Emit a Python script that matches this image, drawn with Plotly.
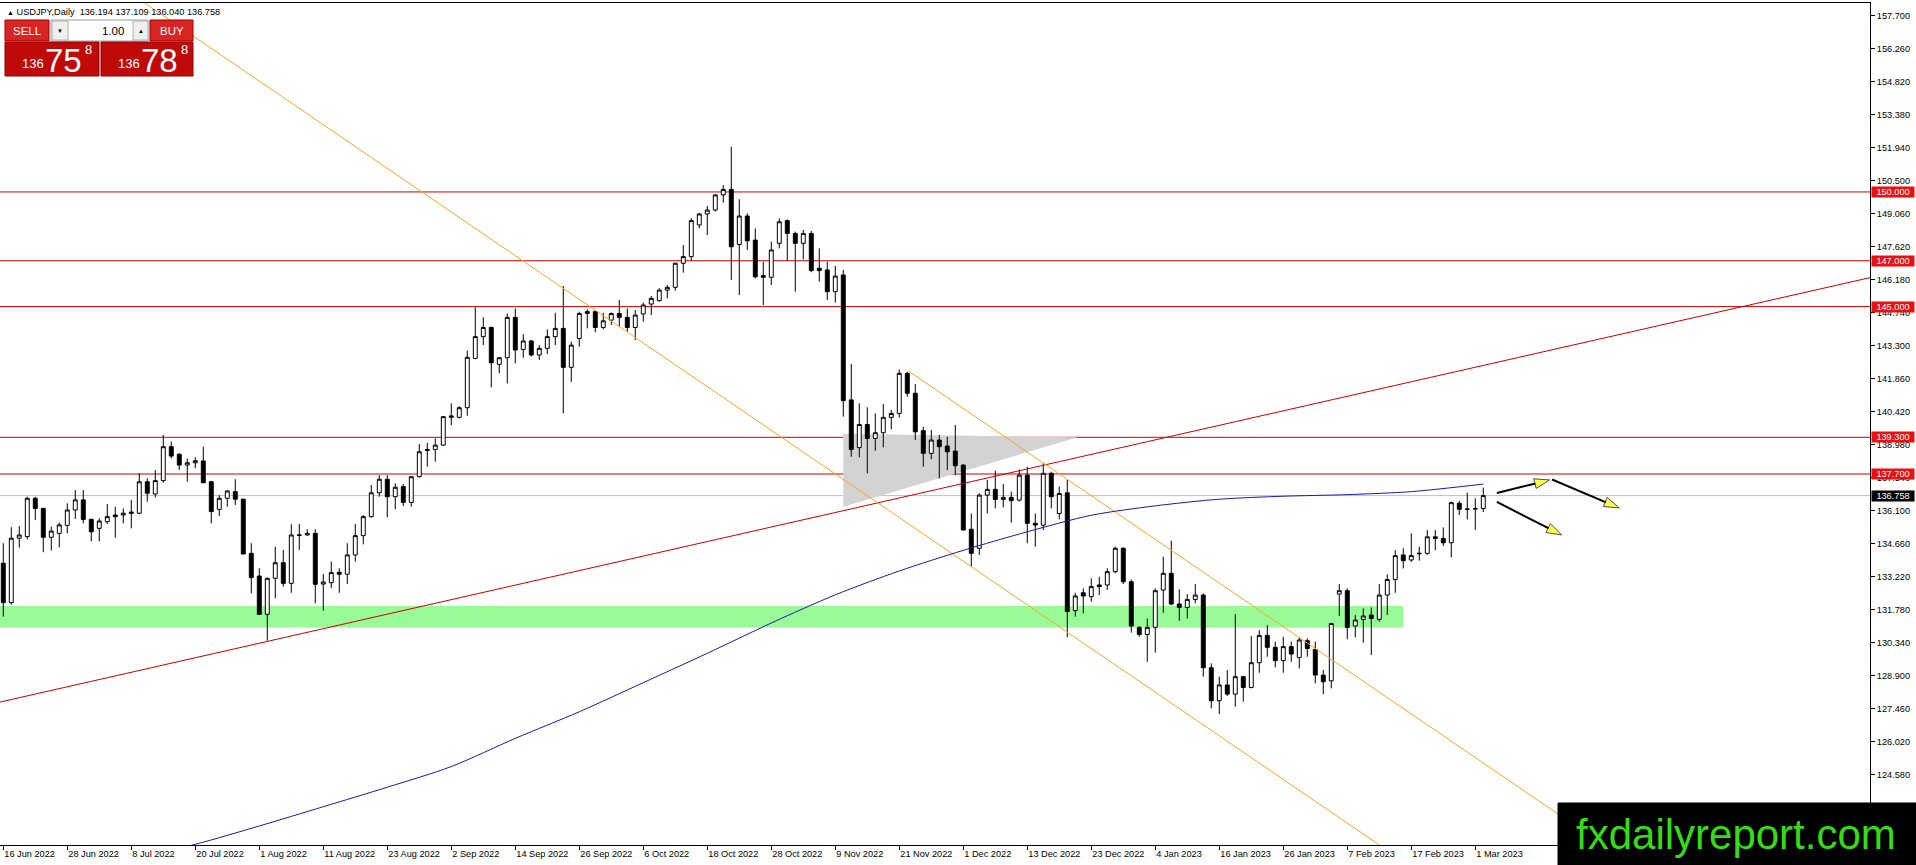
import plotly.graph_objects as go


##########
# Inputs #
##########

HEADER_TEXT = "USDJPY,Daily  136.194 137.109 136.040 136.758"
LOGO_TEXT = "fxdailyreport.com"

# x position of each date label (bar number, 16 Jun 2022 = bar 0)
DATE_TICK_BARS = [0, 8, 16, 24, 32, 40, 48, 56, 64, 72, 80, 88,
                  96, 104, 112, 120, 128, 136, 144, 152, 160, 168, 176, 184]
DATE_LABELS = [
    "16 Jun 2022", "28 Jun 2022", "8 Jul 2022", "20 Jul 2022", "1 Aug 2022",
    "11 Aug 2022", "23 Aug 2022", "2 Sep 2022", "14 Sep 2022", "26 Sep 2022",
    "6 Oct 2022", "18 Oct 2022", "28 Oct 2022", "9 Nov 2022", "21 Nov 2022",
    "1 Dec 2022", "13 Dec 2022", "23 Dec 2022", "4 Jan 2023", "16 Jan 2023",
    "26 Jan 2023", "7 Feb 2023", "17 Feb 2023", "1 Mar 2023",
]

PRICE_TICKS = [124.58, 126.02, 127.46, 128.90, 130.34, 131.78, 133.22, 134.66,
               136.10, 137.54, 138.98, 140.42, 141.86, 143.30, 144.74, 146.18,
               147.62, 149.06, 150.50, 151.94, 153.38, 154.82, 156.26, 157.70]

# Daily candles
OPEN = [
    133.81, 132.09, 134.90, 134.97, 136.64, 136.20, 134.94, 135.11, 135.46, 136.13,
    136.57, 135.72, 135.33, 135.62, 135.91, 135.91, 136.04, 135.99, 137.36, 136.83,
    137.41, 138.89, 138.56, 138.09, 138.19, 138.27, 137.36, 136.16, 136.64, 136.93,
    136.60, 134.24, 133.25, 131.58, 133.15, 133.83, 132.93, 135.02, 135.04, 135.11,
    132.90, 132.96, 133.41, 133.33, 134.17, 135.01, 135.84, 136.88, 137.47, 136.71,
    137.15, 136.46, 137.58, 138.72, 138.77, 138.96, 140.17, 140.17, 140.59, 142.74,
    143.69, 144.09, 142.48, 142.77, 144.53, 143.13, 143.50, 142.89, 143.18, 143.69,
    144.05, 142.35, 143.61, 144.70, 144.78, 144.09, 144.41, 144.70, 144.53, 144.09,
    144.68, 145.11, 145.26, 145.72, 145.84, 146.89, 147.18, 148.56, 149.04, 149.21,
    149.87, 150.11, 147.71, 148.95, 147.90, 146.35, 146.28, 147.76, 148.75, 148.19,
    147.76, 148.19, 146.67, 146.60, 145.65, 146.38, 140.93, 138.85, 139.86, 139.25,
    139.50, 140.17, 140.34, 142.09, 141.22, 139.59, 138.60, 139.18, 138.92, 138.70,
    138.09, 135.29, 134.46, 136.78, 137.03, 136.59, 136.68, 136.56, 137.65, 135.55,
    135.47, 137.73, 135.98, 136.88, 131.74, 132.52, 132.35, 132.86, 132.86, 133.44,
    134.46, 133.00, 131.01, 130.70, 131.01, 132.64, 133.37, 132.03, 131.88, 132.23,
    132.42, 129.25, 127.81, 128.50, 128.10, 128.86, 128.39, 129.47, 130.66, 130.14,
    129.56, 130.17, 129.70, 130.43, 130.05, 128.93, 128.68, 132.46, 132.61, 131.07,
    131.36, 131.55, 131.36, 132.42, 133.10, 134.17, 133.95, 134.22, 134.24, 134.96,
    134.89, 134.70, 136.42, 136.16, 136.17, 136.194,
]
HIGH = [
    134.68, 135.38, 135.43, 136.71, 136.71, 136.22, 135.40, 135.58, 136.42, 137.00,
    137.00, 135.75, 135.77, 136.39, 136.27, 136.20, 136.57, 137.73, 137.51, 137.87,
    139.40, 139.11, 138.60, 138.38, 138.43, 138.89, 137.40, 136.78, 137.00, 137.47,
    136.62, 134.68, 133.59, 133.18, 134.53, 134.39, 135.51, 135.52, 135.29, 135.29,
    133.34, 133.88, 133.59, 134.68, 135.52, 135.91, 137.22, 137.65, 137.65, 137.29,
    137.26, 137.60, 139.01, 139.06, 139.25, 140.23, 140.78, 140.66, 143.08, 144.97,
    144.53, 144.12, 142.80, 144.70, 144.92, 143.80, 143.55, 143.32, 144.01, 144.73,
    145.90, 143.47, 144.78, 144.88, 144.85, 144.73, 144.75, 145.29, 144.92, 144.85,
    145.17, 145.46, 145.80, 145.94, 146.91, 147.68, 148.85, 149.09, 149.39, 149.90,
    150.30, 151.97, 149.68, 149.07, 148.41, 146.96, 147.83, 148.85, 148.80, 148.27,
    148.34, 148.30, 147.54, 146.96, 146.77, 146.60, 142.50, 140.78, 140.61, 140.34,
    140.75, 140.49, 142.26, 142.16, 141.62, 139.76, 139.62, 139.40, 139.33, 139.84,
    138.12, 135.98, 136.85, 137.44, 137.84, 137.26, 136.93, 137.90, 138.02, 135.98,
    138.16, 137.80, 137.15, 137.44, 132.52, 132.71, 133.15, 133.22, 133.59, 134.53,
    134.50, 133.10, 131.07, 131.40, 132.71, 134.09, 134.79, 132.67, 132.46, 132.90,
    132.49, 129.44, 128.86, 129.15, 131.59, 128.90, 130.63, 130.89, 131.11, 130.39,
    130.60, 130.39, 130.57, 130.53, 130.39, 129.15, 131.21, 132.90, 132.71, 131.55,
    131.84, 131.88, 132.90, 133.32, 134.38, 134.46, 135.11, 134.53, 135.26, 135.26,
    135.37, 136.49, 136.53, 136.88, 136.64, 137.109,
]
LOW = [
    131.48, 132.00, 134.49, 134.85, 135.69, 134.29, 134.36, 134.50, 135.11, 135.74,
    135.55, 134.76, 134.76, 135.52, 134.92, 135.55, 135.33, 135.95, 136.49, 136.68,
    137.32, 138.38, 137.87, 137.36, 137.95, 137.30, 135.55, 135.87, 136.27, 136.35,
    134.20, 132.50, 131.55, 130.43, 132.28, 132.79, 132.52, 134.39, 135.02, 132.06,
    131.74, 132.72, 132.52, 132.90, 133.88, 134.63, 135.80, 136.71, 135.81, 136.16,
    136.30, 136.27, 137.55, 138.02, 138.24, 138.93, 139.83, 140.12, 140.24, 142.70,
    143.32, 141.48, 142.09, 141.65, 142.52, 142.77, 142.82, 142.67, 142.93, 143.32,
    140.34, 141.72, 143.25, 144.05, 143.88, 144.01, 144.20, 144.12, 143.91, 143.54,
    144.34, 144.63, 145.22, 145.36, 145.69, 146.48, 147.00, 148.41, 148.12, 149.15,
    149.53, 146.16, 145.50, 147.47, 146.23, 145.07, 145.94, 147.54, 147.00, 145.65,
    147.06, 146.50, 146.09, 145.29, 145.17, 140.20, 138.45, 138.43, 137.73, 138.72,
    138.86, 139.65, 140.17, 141.07, 139.18, 138.02, 138.34, 137.51, 137.87, 137.65,
    135.22, 133.66, 134.17, 135.98, 136.20, 136.24, 135.58, 136.50, 134.68, 134.53,
    135.26, 136.20, 135.72, 130.58, 131.48, 131.62, 132.13, 132.42, 132.64, 133.37,
    132.90, 130.78, 130.60, 129.51, 129.91, 131.65, 131.98, 131.30, 131.40, 132.06,
    128.86, 127.48, 127.23, 128.02, 127.55, 127.77, 128.35, 129.03, 129.73, 129.27,
    129.03, 129.51, 129.22, 129.73, 128.57, 128.10, 128.35, 131.50, 130.49, 130.57,
    130.34, 129.80, 131.26, 131.55, 132.52, 133.58, 133.87, 133.92, 134.17, 134.38,
    134.56, 134.06, 135.91, 135.72, 135.26, 136.040,
]
CLOSE = [
    132.09, 134.90, 135.04, 136.64, 136.20, 134.94, 135.21, 135.48, 136.13, 136.57,
    135.72, 135.18, 135.65, 135.84, 135.84, 135.99, 135.99, 137.36, 136.86, 137.41,
    138.89, 138.48, 138.09, 138.19, 138.28, 137.32, 136.06, 136.64, 136.96, 136.60,
    134.21, 133.18, 131.58, 133.15, 133.83, 132.93, 135.04, 135.04, 135.11, 132.89,
    132.99, 133.40, 133.33, 134.17, 135.01, 135.84, 136.88, 137.47, 136.71, 137.12,
    136.46, 137.58, 138.67, 138.77, 138.96, 140.20, 140.23, 140.59, 142.79, 143.69,
    144.09, 142.55, 142.77, 144.53, 143.11, 143.50, 142.89, 143.18, 143.69, 144.05,
    142.35, 143.32, 144.70, 144.78, 144.09, 144.38, 144.70, 144.53, 144.09, 144.63,
    145.07, 145.36, 145.72, 145.84, 146.89, 147.18, 148.75, 149.04, 149.21, 149.87,
    150.11, 147.61, 148.95, 147.87, 146.30, 146.28, 147.47, 148.70, 148.19, 147.76,
    148.19, 146.57, 146.57, 145.65, 146.33, 140.90, 138.77, 139.86, 139.25, 139.50,
    140.17, 140.34, 142.09, 141.22, 139.54, 138.60, 139.18, 138.89, 138.67, 138.06,
    135.26, 134.24, 136.78, 137.03, 136.59, 136.68, 136.54, 137.65, 135.55, 135.47,
    137.73, 136.71, 136.85, 131.70, 132.38, 132.38, 132.79, 132.79, 133.44, 134.46,
    133.00, 131.07, 130.70, 131.01, 132.61, 133.37, 132.03, 131.88, 132.23, 132.42,
    129.25, 127.81, 128.50, 128.10, 128.86, 128.39, 129.47, 130.66, 130.14, 129.56,
    130.17, 129.85, 130.46, 130.09, 128.93, 128.64, 131.18, 132.61, 131.01, 131.33,
    131.51, 131.40, 132.42, 133.10, 134.14, 133.92, 134.14, 134.24, 134.96, 134.89,
    134.70, 136.45, 136.16, 136.17, 136.19, 136.758,
]

# Moving average line (bar, price)
MA_BARS = [16, 24, 32, 40, 48, 56, 64, 72, 80, 88, 96, 104, 112, 120, 128,
           136, 144, 152, 160, 168, 176, 185]
MA_VALUES = [120.90, 121.55, 122.35, 123.19, 124.04, 124.94, 126.17, 127.33,
             128.60, 129.88, 131.20, 132.43, 133.47, 134.37, 135.18, 135.90,
             136.31, 136.60, 136.73, 136.80, 136.93, 137.26]

LEVELS = [150.0, 147.0, 145.0, 139.3, 137.7]
BID_PRICE = 136.758

SUPPORT_ZONE_BARS = [-1, 175]
SUPPORT_ZONE_PRICES = [131.00, 131.94]

TRIANGLE_BARS = [105.0, 105.0, 134.3]
TRIANGLE_PRICES = [139.45, 136.27, 139.30]

RED_TREND_BARS = [-5, 240]
RED_TREND_PRICES = [127.39, 146.79]
CHANNEL_LOWER_BARS = [10, 180]
CHANNEL_LOWER_PRICES = [160.07, 119.62]
CHANNEL_UPPER_BARS = [113.1, 220]
CHANNEL_UPPER_PRICES = [142.20, 116.77]

# (bar from, price from, bar to, price to)
ARROWS = [
    (186.7, 136.87, 193.3, 137.44),
    (193.6, 137.46, 202.0, 136.22),
    (186.7, 136.48, 194.8, 135.04),
]

# trade panel quotes
SELL_QUOTE = ("136", "75", "8")
BUY_QUOTE = ("136", "78", "8")
LOT_SIZE = "1.00"


######################
# Maps and constants #
######################

FIG_W, FIG_H = 1916, 865
PLOT_L, PLOT_R, PLOT_T, PLOT_B = 0, 1870, 3, 845
X_RANGE = [-0.41, 233.34]
Y_RANGE = [121.52, 158.24]

FONT = "Liberation Sans, Arial, sans-serif"
LABEL_SIZE = 9.2

LEVEL_COLOUR = "#c80000"
LEVEL_LABEL_COLOUR = "#e81010"
ORANGE = "#f5a623"
MA_COLOUR = "#1a1aa8"
ZONE_COLOUR = "#98fb98"
TRIANGLE_COLOUR = "#d3d3d3"
BID_COLOUR = "#c0c0c0"
BUTTON_RED = "#d92424"
QUOTE_RED = "#c00a0a"
LOGO_GREEN = "#35dc16"


def px_x(x):
    return (x - PLOT_L) / (PLOT_R - PLOT_L)


def px_y(y):
    return (PLOT_B - y) / (PLOT_B - PLOT_T)


figure = go.Figure()

###############
# Background  #
###############

shapes = []
shapes.append(dict(
    type="rect", xref="x", yref="y", layer="below",
    x0=SUPPORT_ZONE_BARS[0], x1=SUPPORT_ZONE_BARS[1],
    y0=SUPPORT_ZONE_PRICES[0], y1=SUPPORT_ZONE_PRICES[1],
    fillcolor=ZONE_COLOUR, line=dict(width=0),
))
triangle_path = "M " + " L ".join(f"{b},{p}" for b, p in zip(TRIANGLE_BARS, TRIANGLE_PRICES)) + " Z"
shapes.append(dict(
    type="path", xref="x", yref="y", layer="below", path=triangle_path,
    fillcolor=TRIANGLE_COLOUR, line=dict(width=0),
))
shapes.append(dict(
    type="line", xref="paper", yref="y", layer="below",
    x0=0, x1=1, y0=BID_PRICE, y1=BID_PRICE,
    line=dict(color=BID_COLOUR, width=1),
))
for level in LEVELS:
    shapes.append(dict(
        type="line", xref="paper", yref="y", layer="below",
        x0=0, x1=1, y0=level, y1=level,
        line=dict(color=LEVEL_COLOUR, width=1),
    ))

##########
# Traces #
##########

for bars, prices, colour in [
    (RED_TREND_BARS, RED_TREND_PRICES, LEVEL_COLOUR),
    (CHANNEL_LOWER_BARS, CHANNEL_LOWER_PRICES, ORANGE),
    (CHANNEL_UPPER_BARS, CHANNEL_UPPER_PRICES, ORANGE),
]:
    figure.add_trace(go.Scatter(
        x=bars, y=prices, mode="lines",
        line=dict(color=colour, width=1), showlegend=False, hoverinfo="skip",
    ))

figure.add_trace(go.Scatter(
    x=MA_BARS, y=MA_VALUES, mode="lines",
    line=dict(color=MA_COLOUR, width=1, shape="spline", smoothing=0.8),
    showlegend=False, hoverinfo="skip",
))

figure.add_trace(go.Candlestick(
    x=list(range(len(OPEN))),
    open=OPEN, high=HIGH, low=LOW, close=CLOSE,
    increasing=dict(fillcolor="white", line=dict(color="black", width=1)),
    decreasing=dict(fillcolor="black", line=dict(color="black", width=1)),
    whiskerwidth=0,
    showlegend=False,
))

for x0, y0, x1, y1 in ARROWS:
    figure.add_trace(go.Scatter(
        x=[x0, x1], y=[y0, y1], mode="lines+markers",
        line=dict(color="black", width=2),
        marker=dict(symbol="arrow", size=[0, 16], angleref="previous",
                    color="#ffff00", line=dict(color="black", width=1)),
        showlegend=False, hoverinfo="skip",
    ))

###############
# Annotations #
###############

annotations = []

# price labels on the axis
for level in LEVELS:
    annotations.append(dict(
        xref="paper", yref="y", x=1, y=level, xanchor="left", yanchor="middle",
        xshift=1, text=f"{level:.3f}", showarrow=False,
        bgcolor=LEVEL_LABEL_COLOUR, width=42, height=10, borderpad=0,
        font=dict(family=FONT, size=LABEL_SIZE, color="white"),
    ))
annotations.append(dict(
    xref="paper", yref="y", x=1, y=BID_PRICE, xanchor="left", yanchor="middle",
    xshift=1, text=f"{BID_PRICE:.3f}", showarrow=False,
    bgcolor="black", width=42, height=10, borderpad=0,
    font=dict(family=FONT, size=LABEL_SIZE, color="white"),
))

# header
annotations.append(dict(
    xref="paper", yref="paper", x=px_x(5), y=px_y(12), xanchor="left", yanchor="middle",
    text="<span style='font-size:7px'>▲</span> " + HEADER_TEXT, showarrow=False,
    font=dict(family=FONT, size=LABEL_SIZE, color="black"),
))


def add_box(x0, y0, x1, y1, fill, line_colour=None):
    shapes.append(dict(
        type="rect", xref="paper", yref="paper", layer="above",
        x0=px_x(x0), x1=px_x(x1), y0=px_y(y1), y1=px_y(y0),
        fillcolor=fill,
        line=dict(color=line_colour or fill, width=1),
    ))


def add_text(x, y, text, size, colour, xanchor="center", yanchor="middle"):
    annotations.append(dict(
        xref="paper", yref="paper", x=px_x(x), y=px_y(y),
        xanchor=xanchor, yanchor=yanchor, text=text, showarrow=False,
        font=dict(family=FONT, size=size, color=colour),
    ))


# trade panel
add_box(5, 20, 49, 41, BUTTON_RED, "#a00000")
add_text(27, 31, "SELL", 11.5, "white")
add_box(51, 20, 148, 41, "white", "#9a9a9a")
add_box(52, 21, 68, 40, "#efefef", "#b0b0b0")
add_box(133, 21, 148, 40, "#efefef", "#b0b0b0")
add_text(60, 31, "▼", 6, "black")
add_text(140.5, 31, "▲", 6, "black")
add_text(126, 31, LOT_SIZE, 11.5, "black", xanchor="right")
add_box(150, 20, 193, 41, BUTTON_RED, "#a00000")
add_text(171.5, 31, "BUY", 11.5, "white")

for (x0, x1), quote in [((5, 99), SELL_QUOTE), ((101, 193), BUY_QUOTE)]:
    add_box(x0, 42, x1, 76, QUOTE_RED, "#8a0000")
    add_text(x0 + 41, 63, quote[0], 13, "white", xanchor="right")
    add_text(x0 + 58, 60, quote[1], 33, "white")
    add_text(x0 + 78, 50, quote[2], 13, "white", xanchor="left")

# logo
add_box(1558, 803, 1920, 870, "black")
add_text(1736, 834, LOGO_TEXT, 42, LOGO_GREEN)


##########
# Layout #
##########

figure.update_layout(
    width=FIG_W,
    height=FIG_H,
    autosize=False,
    margin=dict(l=PLOT_L, r=FIG_W - PLOT_R, t=PLOT_T, b=FIG_H - PLOT_B, pad=0),
    paper_bgcolor="white",
    plot_bgcolor="white",
    showlegend=False,
    hovermode=False,
    shapes=shapes,
    annotations=annotations,
    font=dict(family=FONT, size=LABEL_SIZE, color="black"),
)

figure.update_xaxes(
    range=X_RANGE,
    rangeslider=dict(visible=False),
    tickmode="array",
    tickvals=DATE_TICK_BARS,
    ticktext=DATE_LABELS,
    ticks="outside",
    ticklen=4,
    tickcolor="black",
    ticklabelposition="outside right",
    tickfont=dict(family=FONT, size=LABEL_SIZE, color="black"),
    showgrid=False,
    zeroline=False,
    showline=True,
    linecolor="black",
    linewidth=1,
    mirror=True,
)

figure.update_yaxes(
    range=Y_RANGE,
    side="right",
    tickmode="array",
    tickvals=PRICE_TICKS,
    ticktext=[f"{t:.3f}" for t in PRICE_TICKS],
    ticks="outside",
    ticklen=4,
    tickcolor="black",
    tickfont=dict(family=FONT, size=LABEL_SIZE, color="black"),
    showgrid=False,
    zeroline=False,
    showline=True,
    linecolor="black",
    linewidth=1,
    mirror=True,
)

# the page has no body margin in the reference screenshot
figure.write_html(
    "out.html",
    config={"displayModeBar": False},
    post_script="document.body.style.margin='0';document.body.style.overflow='hidden';",
)
